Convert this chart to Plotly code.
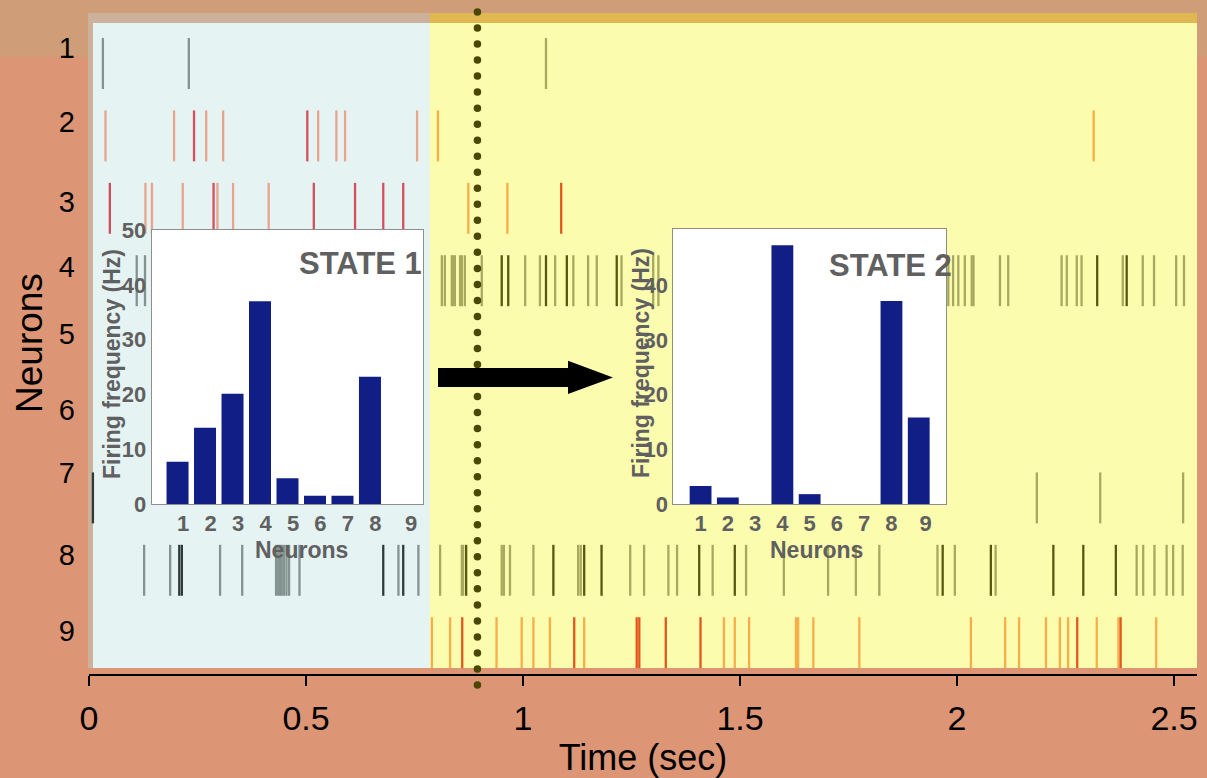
import numpy as np
import plotly.graph_objects as go

# ---------------- data ----------------
NEURONS = [1, 2, 3, 4, 5, 6, 7, 8, 9]
TIME_TICKS = [0, 0.5, 1, 1.5, 2, 2.5]
TIME_TICK_LABELS = ["0", "0.5", "1", "1.5", "2", "2.5"]
FREQ_TICKS_1 = [0, 10, 20, 30, 40, 50]
FREQ_TICKS_2 = [0, 10, 20, 30, 40]

STATE_SWITCH_T = 0.785   # end of STATE 1 (blue) / start of STATE 2 (yellow)
MARKER_T = 0.895         # dotted vertical marker
T_MAX = 2.553

# spike times (s) per neuron
N1_SPIKES = [0.032, 0.230, 1.053]
N2_SPIKES = [0.038, 0.196, 0.242, 0.270, 0.309, 0.503, 0.528, 0.570, 0.590, 0.756, 0.804, 2.315]
N3_SPIKES = [0.048, 0.130, 0.145, 0.216, 0.287, 0.296, 0.332, 0.414, 0.518, 0.613, 0.678, 0.724,
             0.874, 0.964, 1.088]
N4_SPIKES = [0.110, 0.129, 0.813, 0.820, 0.836, 0.839, 0.843, 0.855, 0.859, 0.866, 0.905, 0.951,
             0.966, 1.005, 1.039, 1.053, 1.074, 1.101, 1.116, 1.150, 1.170, 1.216, 1.227, 1.300,
             1.312, 1.980, 1.991, 2.003, 2.018, 2.034, 2.038, 2.099, 2.118, 2.241, 2.253, 2.276,
             2.287, 2.323, 2.382, 2.391, 2.428, 2.454, 2.505, 2.523]
N5_SPIKES = []
N6_SPIKES = []
N7_SPIKES = [0.009, 2.184, 2.330, 2.521]
N8_SPIKES = [0.127, 0.187, 0.208, 0.214, 0.302, 0.353, 0.431, 0.436, 0.440, 0.444, 0.449, 0.455,
             0.461, 0.485, 0.678, 0.713, 0.724, 0.759, 0.809, 0.859, 0.862, 0.869, 0.951, 0.956,
             0.970, 1.024, 1.070, 1.127, 1.133, 1.141, 1.181, 1.247, 1.279, 1.335, 1.355, 1.406,
             1.437, 1.488, 1.514, 1.601, 1.703, 1.767, 1.821, 1.955, 1.967, 1.995, 2.078, 2.089,
             2.222, 2.291, 2.366, 2.414, 2.429, 2.455, 2.483, 2.498, 2.520]
N9_SPIKES = [0.790, 0.832, 0.860, 0.939, 0.997, 1.024, 1.062, 1.118, 1.141, 1.262, 1.268, 1.329,
             1.409, 1.463, 1.488, 1.521, 1.629, 1.634, 1.669, 1.775, 2.032, 2.111, 2.143, 2.205,
             2.237, 2.256, 2.277, 2.322, 2.372, 2.377, 2.459]

# strong (dark) spikes
N2_STRONG = [0.242, 0.503]
N3_STRONG = [0.048, 0.287, 0.518, 0.613, 0.678, 0.724, 1.088]
N4_STRONG = [0.951, 0.966, 1.053, 1.101, 1.216, 2.323, 2.391]
N7_STRONG = [0.009]
N8_STRONG = [0.208, 0.214, 0.678, 0.724, 0.869, 1.070, 1.141, 1.181, 1.406, 1.488, 1.967, 2.078,
             2.222, 2.291, 2.366]
N9_STRONG = [0.860, 1.118, 1.262, 1.268, 1.329, 1.409, 2.277, 2.377]

# firing frequency (Hz) per neuron
STATE1_RATE = [7.7, 13.9, 20.1, 37.0, 4.7, 1.5, 1.5, 23.2, 0.0]
STATE2_RATE = [3.3, 1.2, 0.0, 47.3, 1.8, 0.0, 0.0, 37.1, 15.8]

# ---------------- geometry helpers ----------------
W, H = 1207, 778
ROW0_PX, ROW_PX = 63.5, 72.4


def px(x):
    return x / W


def py(y):
    return 1 - y / H


def row_of(ypix):
    return 1 + (ypix - ROW0_PX) / ROW_PX


SPIKES = [N1_SPIKES, N2_SPIKES, N3_SPIKES, N4_SPIKES, N5_SPIKES, N6_SPIKES,
          N7_SPIKES, N8_SPIKES, N9_SPIKES]
STRONG = [[], N2_STRONG, N3_STRONG, N4_STRONG, [], [], N7_STRONG, N8_STRONG, N9_STRONG]
GRAY_NEURONS = {1, 4, 5, 6, 7, 8}

PALETTE = {
    ("s1", "gray", False): "#83938F",
    ("s1", "gray", True): "#2E3A3A",
    ("s1", "red", False): "#E9A48E",
    ("s1", "red", True): "#D44F5E",
    ("s2", "gray", False): "#A8A95E",
    ("s2", "gray", True): "#5A5810",
    ("s2", "red", False): "#F7AE4A",
    ("s2", "red", True): "#E3561E",
}

HALF = 0.352
groups = {k: ([], []) for k in PALETTE}
for n, times, strong in zip(NEURONS, SPIKES, STRONG):
    for t in times:
        key = ("s1" if t < STATE_SWITCH_T else "s2",
               "gray" if n in GRAY_NEURONS else "red",
               t in strong)
        xs, ys = groups[key]
        xs += [t, t, None]
        ys += [n - HALF, n + HALF, None]

fig = go.Figure()
for key, (xs, ys) in groups.items():
    if not xs:
        continue
    fig.add_trace(go.Scatter(x=xs, y=ys, mode="lines", xaxis="x", yaxis="y",
                             line=dict(color=PALETTE[key], width=2.3),
                             hoverinfo="skip", showlegend=False))

# dotted marker line
dot_y = np.linspace(row_of(12), row_of(685), 43)
fig.add_trace(go.Scatter(x=[MARKER_T] * len(dot_y), y=dot_y, mode="markers",
                         marker=dict(size=7.5, color="#4A4700"), cliponaxis=False,
                         hoverinfo="skip", showlegend=False))

# inset bar charts
BAR = "#111E86"
fig.add_trace(go.Bar(x=NEURONS, y=STATE1_RATE, xaxis="x2", yaxis="y2", width=0.8,
                     marker=dict(color=BAR, line=dict(width=0)), showlegend=False))
fig.add_trace(go.Bar(x=NEURONS, y=STATE2_RATE, xaxis="x3", yaxis="y3", width=0.8,
                     marker=dict(color=BAR, line=dict(width=0)), showlegend=False))

FONT = "Liberation Sans, Arial, Helvetica, sans-serif"
GRAY_TXT = "#606060"
SALMON = "#DC9575"

shapes = [
    dict(type="rect", xref="paper", yref="paper", x0=0, x1=1, y0=0, y1=py(668),
         fillcolor=SALMON, line_width=0, layer="below"),
    dict(type="rect", xref="paper", yref="paper", x0=0, x1=1, y0=py(57), y1=1,
         fillcolor="#CF9E78", line_width=0, layer="below"),
    dict(type="rect", xref="paper", yref="paper", x0=0, x1=px(88), y0=py(668), y1=py(57),
         fillcolor=SALMON, line_width=0, layer="below"),
    dict(type="rect", xref="paper", yref="paper", x0=px(88), x1=px(1197), y0=py(668), y1=py(13),
         fillcolor="#CCB29C", line_width=0, layer="below"),
    dict(type="rect", xref="x", yref="paper", x0=STATE_SWITCH_T, x1=T_MAX, y0=py(23), y1=py(13),
         fillcolor="#E0B851", line_width=0, layer="below"),
    dict(type="rect", xref="paper", yref="paper", x0=px(93), x1=px(430), y0=py(668), y1=py(23),
         fillcolor="#E6F3F3", line_width=0, layer="below"),
    dict(type="rect", xref="x", yref="paper", x0=STATE_SWITCH_T, x1=T_MAX, y0=py(668), y1=py(23),
         fillcolor="#FCFCAF", line_width=0, layer="below"),
]
arrow_pts = [(438, 368), (568, 368), (568, 360.7), (613, 377.5), (568, 394), (568, 387), (438, 387)]
path = "M " + " L ".join(f"{px(a):.5f},{py(b):.5f}" for a, b in arrow_pts) + " Z"
shapes.append(dict(type="path", xref="paper", yref="paper", path=path,
                   fillcolor="black", line=dict(width=0), layer="above"))

inset_axis_common = dict(showline=True, mirror=True, linecolor="#8E8E8E", linewidth=1,
                         showgrid=False, zeroline=False, ticks="", automargin=False,
                         tickfont=dict(family=FONT, size=22, color=GRAY_TXT, weight="bold"))
title_font = dict(family=FONT, size=23, color=GRAY_TXT, weight="bold")


def note(text, x, y, font, angle=0, xanchor="center"):
    return dict(text=text, xref="paper", yref="paper", x=px(x), y=py(y), textangle=angle,
                xanchor=xanchor, yanchor="middle", showarrow=False, font=font)


fig.update_layout(
    width=W, height=H,
    margin=dict(l=0, r=0, t=0, b=0),
    paper_bgcolor=SALMON,
    plot_bgcolor="white",
    hovermode=False,
    showlegend=False,
    shapes=shapes,
    xaxis=dict(domain=[px(89), px(1197)], range=[0, T_MAX], anchor="free", position=py(675),
               showline=True, linecolor="black", linewidth=2, ticks="outside", ticklen=10,
               tickwidth=1.5, tickcolor="black", tickvals=TIME_TICKS, ticktext=TIME_TICK_LABELS,
               tickfont=dict(family=FONT, size=34, color="black"), ticklabelstandoff=3,
               showgrid=False, zeroline=False, automargin=False,
               title=dict(text="Time (sec)", font=dict(family=FONT, size=36, color="black"),
                          standoff=14)),
    yaxis=dict(domain=[0, 1], range=[row_of(H), row_of(0)], anchor="free", position=px(89),
               showline=False, ticks="", showgrid=False, zeroline=False, automargin=False,
               tickvals=[row_of(p) for p in [48, 122, 202, 267, 334, 410, 473, 555, 631]],
               ticktext=[str(n) for n in NEURONS], ticklabelstandoff=14,
               tickfont=dict(family=FONT, size=29, color="black")),
    xaxis2=dict(domain=[px(151.7), px(423.3)], anchor="y2", range=[0.06, 9.94],
                tickvals=[1.2, 2.2, 3.2, 4.2, 5.2, 6.2, 7.2, 8.2, 9.5],
                ticktext=[str(n) for n in NEURONS], **inset_axis_common),
    yaxis2=dict(domain=[py(504), py(230)], anchor="x2", range=[0, 50], tickvals=FREQ_TICKS_1,
                **inset_axis_common),
    xaxis3=dict(domain=[px(673.3), px(946)], anchor="y3", range=[0.0, 10.0],
                tickvals=[1, 2, 3, 4, 5, 6, 7, 8, 9.25],
                ticktext=[str(n) for n in NEURONS], **inset_axis_common),
    yaxis3=dict(domain=[py(504), py(229.3)], anchor="x3", range=[0, 50.2], tickvals=FREQ_TICKS_2,
                **inset_axis_common),
    annotations=[
        note("Neurons", 29, 343, dict(family=FONT, size=37, color="black"), angle=-90),
        note("Firing frequency (Hz)", 112, 364, title_font, angle=-90),
        note("Firing frequency (Hz)", 641, 363, title_font, angle=-90),
        note("Neurons", 301, 550, title_font),
        note("Neurons", 816, 550, title_font),
        note("STATE 1", 424, 263, dict(family=FONT, size=31, color=GRAY_TXT, weight="bold"),
             xanchor="right"),
        note("STATE 2", 954, 265, dict(family=FONT, size=31, color=GRAY_TXT, weight="bold"),
             xanchor="right"),
    ],
)

fig.write_html("out.html")
